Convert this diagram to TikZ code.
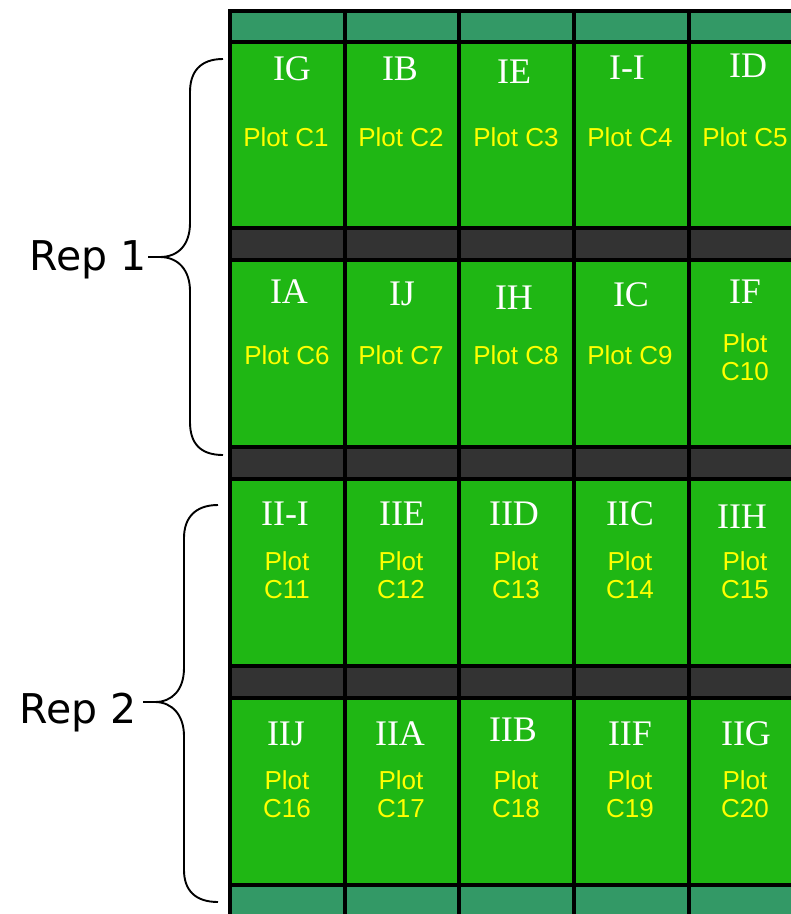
\documentclass[tikz,border=0pt]{standalone}
\usepackage{fontspec}
\setmainfont{Liberation Serif}
\newfontfamily\plotfont{Liberation Sans}
\newfontfamily\repfont{DejaVu Sans}
\definecolor{cellgreen}{HTML}{1FB714}
\definecolor{stripteal}{HTML}{339966}
\definecolor{stripdark}{HTML}{333333}
\definecolor{plotyellow}{HTML}{FFFF00}
\begin{document}
\begin{tikzpicture}[x=1pt,y=-1pt,
  cellline/.style={draw=black,line width=3.3pt},
  trt/.style={text=white,font=\fontsize{36}{36}\selectfont,anchor=base,inner sep=0pt},
  plotlbl/.style={text=plotyellow,font=\plotfont\fontsize{26}{28}\selectfont,anchor=base,align=center,inner sep=0pt},
  replbl/.style={font=\repfont\fontsize{41}{41}\selectfont,anchor=base east,inner sep=0pt},
  bracestyle/.style={draw=black,line width=1.9pt}]
\useasboundingbox (0,0) rectangle (791,914);
\fill[white] (0,0) rectangle (791,914);
% grid
\foreach \ya/\yb/\c in {11/42/stripteal,42/228/cellgreen,228/260/stripdark,260/447/cellgreen,447/479/stripdark,479/666/cellgreen,666/698/stripdark,698/885/cellgreen,885/930/stripteal}
  \foreach \xa/\xb in {230/345,345/459,459/574,574/689,689/804}
    \draw[cellline,fill=\c] (\xa,\ya) rectangle (\xb,\yb);
% row 1
\node[trt] (IG) at (292,80) {IG};
\node[trt] (IB) at (400,80) {IB};
\node[trt] (IE) at (514,83) {IE};
\node[trt] (II) at (627,79) {I-I};
\node[trt] (ID) at (748,77) {ID};
\node[plotlbl] (C1) at (286,146) {Plot C1};
\node[plotlbl] (C2) at (401,146) {Plot C2};
\node[plotlbl] (C3) at (516,146) {Plot C3};
\node[plotlbl] (C4) at (630,146) {Plot C4};
\node[plotlbl] (C5) at (745,146) {Plot C5};
% row 2
\node[trt] (IA) at (289,303) {IA};
\node[trt] (IJ) at (402,305) {IJ};
\node[trt] (IH) at (514,309) {IH};
\node[trt] (IC) at (631,306) {IC};
\node[trt] (IF) at (745,303) {IF};
\node[plotlbl] (C6) at (287,364) {Plot C6};
\node[plotlbl] (C7) at (401,364) {Plot C7};
\node[plotlbl] (C8) at (516,364) {Plot C8};
\node[plotlbl] (C9) at (630,364) {Plot C9};
\node[plotlbl] (C10) at (745,380) {Plot\\C10};
% row 3
\node[trt] (III) at (285,525) {II-I};
\node[trt] (IIE) at (402,525) {IIE};
\node[trt] (IID) at (514,525) {IID};
\node[trt] (IIC) at (630,525) {IIC};
\node[trt] (IIH) at (742,528) {IIH};
\node[plotlbl] (C11) at (287,598) {Plot\\C11};
\node[plotlbl] (C12) at (401,598) {Plot\\C12};
\node[plotlbl] (C13) at (516,598) {Plot\\C13};
\node[plotlbl] (C14) at (630,598) {Plot\\C14};
\node[plotlbl] (C15) at (745,598) {Plot\\C15};
% row 4
\node[trt] (IIJ) at (286,745) {IIJ};
\node[trt] (IIA) at (400,745) {IIA};
\node[trt] (IIB) at (513,741) {IIB};
\node[trt] (IIF) at (630,745) {IIF};
\node[trt] (IIG) at (746,745) {IIG};
\node[plotlbl] (C16) at (287,817) {Plot\\C16};
\node[plotlbl] (C17) at (401,817) {Plot\\C17};
\node[plotlbl] (C18) at (516,817) {Plot\\C18};
\node[plotlbl] (C19) at (630,817) {Plot\\C19};
\node[plotlbl] (C20) at (745,817) {Plot\\C20};
% braces
\node[replbl] (rep1) at (147,270) {Rep 1};
\node[replbl] (rep2) at (137,723) {Rep 2};
\coordinate (r1top) at (223,59);
\coordinate (r1tip) at (160,257);
\coordinate (r1stub) at (148,257);
\coordinate (r1bot) at (223,455);
\coordinate (r2top) at (218,505);
\coordinate (r2tip) at (155,702);
\coordinate (r2stub) at (143,702);
\coordinate (r2bot) at (218,902);
\draw[bracestyle] (r1top) .. controls (200,59) and (190,72) .. (190,92) -- (190,223)
  .. controls (190,245) and (178,257) .. (r1tip)
  .. controls (178,257) and (190,270) .. (190,291) -- (190,422)
  .. controls (190,443) and (200,455) .. (r1bot);
\draw[bracestyle] (r1stub) -- (r1tip);
\draw[bracestyle] (r2top) .. controls (195,505) and (184,518) .. (184,538) -- (184,668)
  .. controls (184,690) and (172,702) .. (r2tip)
  .. controls (172,702) and (184,715) .. (184,736) -- (184,870)
  .. controls (184,890) and (195,902) .. (r2bot);
\draw[bracestyle] (r2stub) -- (r2tip);
\end{tikzpicture}
\end{document}
